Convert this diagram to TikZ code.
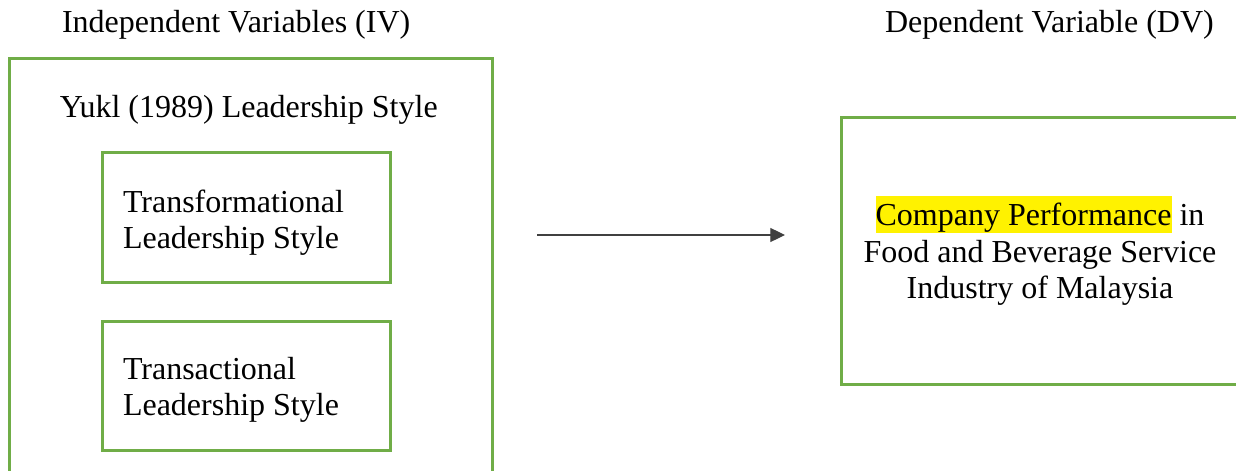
\documentclass[tikz,border=0pt]{standalone}
\usepackage{fontspec}
\setmainfont{Liberation Serif}
\usetikzlibrary{arrows.meta}
\definecolor{boxgreen}{HTML}{70AD47}
\definecolor{arrowgray}{HTML}{404040}
\newcommand\hlyellow[1]{{\setlength{\fboxsep}{0pt}\colorbox{yellow}{\rule[-6pt]{0pt}{27.75pt}#1}}}
\begin{document}
\begin{tikzpicture}[x=0.75pt,y=-0.75pt,
  greenbox/.style={draw=boxgreen,line width=2.25pt,inner sep=0pt,outer sep=0pt,anchor=north west},
  label/.style={font=\fontsize{24}{27}\selectfont,inner sep=0pt,outer sep=0pt},
  conn/.style={draw=arrowgray,line width=0.9pt,-{Triangle[length=11pt,width=10.5pt]}}]
\clip (0,0) rectangle (1236,471);
\fill[white] (0,0) rectangle (1236,471);
% headers
\node[label,anchor=base west] (ivhead) at (62,32) {Independent Variables (IV)};
\node[label,anchor=base west] (dvhead) at (885,32) {Dependent Variable (DV)};
% left outer box
\node[greenbox,minimum width=362.25pt,minimum height=337.5pt] (iv) at (9,58) {};
\node[label,anchor=base west] (yukl) at (60,117) {Yukl (1989) Leadership Style};
% inner boxes
\node[greenbox,minimum width=216pt,minimum height=97.5pt] (tf) at (102,152) {};
\node[label,anchor=base west] (tf1) at (123,212) {Transformational};
\node[label,anchor=base west] (tf2) at (123,248) {Leadership Style};
\node[greenbox,minimum width=216pt,minimum height=96.75pt] (ts) at (102,321) {};
\node[label,anchor=base west] (ts1) at (123,379) {Transactional};
\node[label,anchor=base west] (ts2) at (123,415) {Leadership Style};
% right box
\node[greenbox,minimum width=315pt,minimum height=200.25pt] (dv) at (841,117) {};
\node[label,anchor=base] (dv1) at (1040,225) {\hlyellow{Company Performance} in};
\node[label,anchor=base] (dv2) at (1040,262) {Food and Beverage Service};
\node[label,anchor=base] (dv3) at (1040,298) {Industry of Malaysia};
% arrow
\coordinate (astart) at (537,235);
\coordinate (aend) at (785,235);
\draw[conn] (astart) -- (aend);
\end{tikzpicture}
\end{document}
